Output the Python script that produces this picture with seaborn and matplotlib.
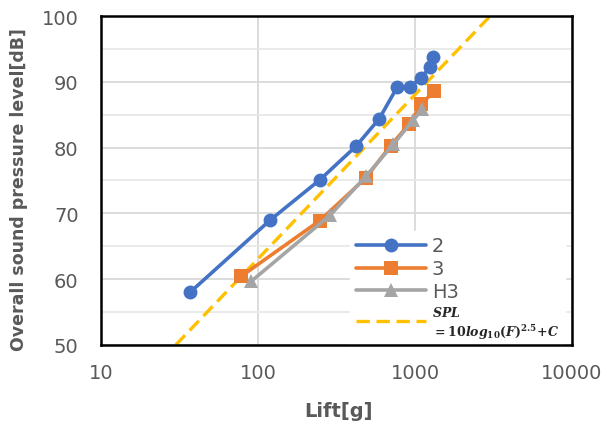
import numpy as np
import pandas as pd
import matplotlib
matplotlib.use("Agg")
import matplotlib.pyplot as plt
import seaborn as sns
from matplotlib.ticker import FixedLocator, FixedFormatter, MultipleLocator, NullLocator

# ---- data ----
lift_2 = [37, 120, 248, 421, 593, 771, 929, 1087, 1246, 1310]
spl_2 = [58.0, 69.0, 75.1, 80.2, 84.4, 89.2, 89.2, 90.6, 92.2, 93.8]
lift_3 = [78, 248, 487, 700, 920, 1100, 1322]
spl_3 = [60.4, 68.9, 75.4, 80.3, 83.6, 86.6, 88.6]
lift_h3 = [91, 288, 490, 728, 977, 1117]
spl_h3 = [59.7, 69.7, 75.7, 80.5, 84.2, 85.9]
fit_lift = [20, 5000]
fit_spl = [45.6, 105.5]
series_names = ["2", "3", "H3"]
xticks = [10, 100, 1000, 10000]
xtick_labels = ["10", "100", "1000", "10000"]
yticks = [50, 60, 70, 80, 90, 100]

df = pd.concat([
    pd.DataFrame({"lift": lift_2, "spl": spl_2, "series": "2"}),
    pd.DataFrame({"lift": lift_3, "spl": spl_3, "series": "3"}),
    pd.DataFrame({"lift": lift_h3, "spl": spl_h3, "series": "H3"}),
])

sns.set_theme(style="white")
plt.rcParams["font.family"] = ["DejaVu Sans"]
plt.rcParams["mathtext.fontset"] = "custom"
plt.rcParams["mathtext.rm"] = "DejaVu Serif:bold"
plt.rcParams["mathtext.it"] = "DejaVu Serif:italic:bold"
plt.rcParams["mathtext.bf"] = "DejaVu Serif:bold"

fig = plt.figure(figsize=(6.04, 4.27), dpi=100)
ax = fig.add_axes([0.167, 0.190, 0.780, 0.770])

palette = {"2": "#4472C4", "3": "#ED7D31", "H3": "#A5A5A5"}
markers = {"2": "o", "3": "s", "H3": "^"}

for name in series_names:
    sub = df[df["series"] == name]
    sns.lineplot(data=sub, x="lift", y="spl", ax=ax, color=palette[name],
                 marker=markers[name], markersize=10, linewidth=2.6,
                 markeredgewidth=0, label=name, sort=False, zorder=3)

sns.lineplot(x=fit_lift, y=fit_spl, ax=ax, color="#FFC000", linewidth=2.4,
             linestyle=(0, (4, 2)), zorder=2, label="fit")

ax.set_xscale("log")
ax.set_xlim(10, 10000)
ax.set_ylim(50, 100)
ax.xaxis.set_major_locator(FixedLocator(xticks))
ax.xaxis.set_major_formatter(FixedFormatter(xtick_labels))
ax.xaxis.set_minor_locator(NullLocator())
ax.yaxis.set_major_locator(FixedLocator(yticks))
ax.yaxis.set_minor_locator(MultipleLocator(5))

ax.grid(True, which="major", color="#D9D9D9", linewidth=1.3, zorder=0)
ax.grid(True, which="minor", axis="y", color="#E8E8E8", linewidth=1.3, zorder=0)
ax.set_axisbelow(True)

for s in ax.spines.values():
    s.set_color("black")
    s.set_linewidth(1.8)
    s.set_zorder(2.5)

ax.tick_params(axis="both", which="both", length=0, labelsize=14,
               labelcolor="#595959")
ax.tick_params(axis="y", pad=16)
ax.tick_params(axis="x", pad=13)

ax.set_xlabel("Lift[g]", fontsize=14, fontweight="bold", color="#595959")
ax.set_ylabel("Overall sound pressure level[dB]", fontsize=12.5, fontweight="bold",
              color="#595959")
ax.xaxis.set_label_coords(0.505, -0.170)
ax.yaxis.set_label_coords(-0.155, 0.475)

handles, labels = ax.get_legend_handles_labels()
labels = labels[:3] + ["$SPL$\n$= 10log_{10}(F)^{2.5}\\!+\\!C$"]
leg = ax.legend(handles, labels, loc="lower right", bbox_to_anchor=(1.005, -0.035),
                frameon=True, fontsize=14, handlelength=3.6, labelspacing=0.2,
                borderpad=0.3, handletextpad=0.3)
leg.get_frame().set_edgecolor("white")
leg.get_frame().set_facecolor("white")
leg.get_frame().set_alpha(1)
leg.set_zorder(2.4)
for t in leg.get_texts():
    t.set_color("#595959")
leg.get_texts()[3].set_fontsize(9)
leg.get_texts()[3].set_color("#262626")

fig.savefig("out.png", dpi=100)
